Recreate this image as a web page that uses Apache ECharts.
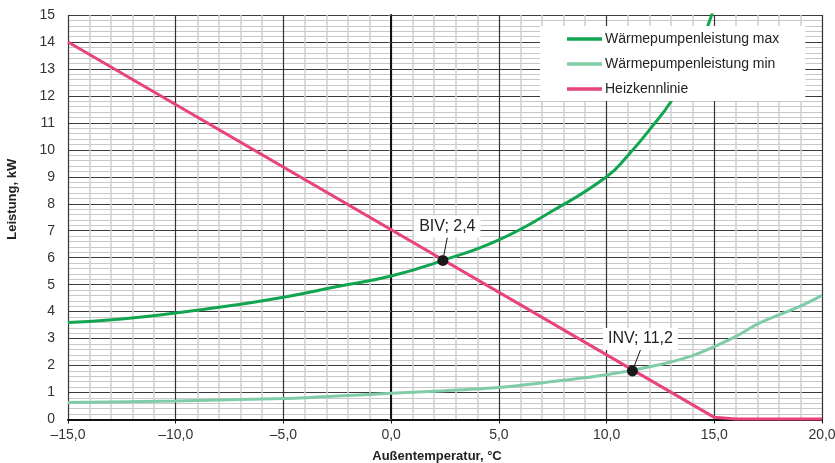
<!DOCTYPE html>
<html>
<head>
<meta charset="utf-8">
<script src="https://cdn.jsdelivr.net/npm/echarts@6/dist/echarts.min.js"></script>
<style>html,body{margin:0;padding:0;background:#fff}#c{width:835px;height:463px}</style>
</head>
<body>
<div id="c"></div>
<script>
// Data
const seriesNames = ['Wärmepumpenleistung max', 'Wärmepumpenleistung min', 'Heizkennlinie'];
const maxX = [-15, -12.5, -10, -7.5, -5, -2.5, 0, 2.4, 5, 7.5, 10, 11, 12, 13, 14, 15];
const maxY = [3.6, 3.73, 3.95, 4.22, 4.53, 4.93, 5.32, 5.9, 6.66, 7.74, 9.0, 9.8, 10.75, 11.8, 13.2, 15.3];
const minX = [-15, -10, -5, -2.5, 0, 2.5, 5, 7.5, 10, 12.5, 14, 15, 16, 17, 18, 19, 20];
const minY = [0.63, 0.69, 0.78, 0.87, 0.97, 1.07, 1.19, 1.41, 1.66, 2.04, 2.37, 2.7, 3.08, 3.54, 3.88, 4.2, 4.6];
const heizX = [-15, 15, 16, 20];
const heizY = [14, 0.08, 0.02, 0.02];
const pointNames = ['BIV; 2,4', 'INV; 11,2'];
const pointX = [2.4, 11.2];
const pointY = [5.9, 1.8];

const zip = (a, b) => a.map((v, i) => [v, b[i]]);
const FONT = '"Liberation Sans", Arial, Helvetica, sans-serif';
const labelOffsets = [[4.5, -12.5], [8, -10.5]];

const chart = echarts.init(document.getElementById('c'), null, {renderer: 'canvas'});
chart.setOption({
  animation: false,
  textStyle: {fontFamily: FONT},
  grid: {left: 68, right: 13, top: 15, bottom: 43.5, outerBoundsMode: 'none', containLabel: false},
  legend: {
    data: seriesNames,
    orient: 'vertical',
    left: 540, top: 26,
    backgroundColor: '#fff',
    padding: [5, 26, 4, 27],
    itemWidth: 35, itemHeight: 3.5, itemGap: 9,
    icon: 'rect',
    textStyle: {fontSize: 14, color: '#222', fontFamily: FONT, lineHeight: 16, padding: [0, 0, 0, -2]}
  },
  xAxis: {
    type: 'value', min: -15, max: 20, interval: 5,
    name: 'Außentemperatur, °C', nameLocation: 'middle', nameGap: 30,
    nameTextStyle: {fontWeight: 'bold', fontSize: 13, color: '#222', padding: [0, 16, 0, 0]},
    axisLine: {show: true, onZero: false, lineStyle: {color: '#111', width: 2}},
    axisTick: {show: true, length: 4, lineStyle: {color: '#111'}},
    axisLabel: {fontSize: 14, color: '#333', margin: 9,
      formatter: v => v.toFixed(1).replace('.', ',').replace('-', '–')},
    splitLine: {show: true, lineStyle: {color: '#333', width: 1.2}},
    minorTick: {show: true, splitNumber: 5, length: 0},
    minorSplitLine: {show: true, lineStyle: {color: '#cfcfcf', width: 1.5}}
  },
  yAxis: {
    type: 'value', min: 0, max: 15, interval: 1,
    name: 'Leistung, kW', nameLocation: 'middle', nameGap: 49, nameRotate: 90,
    nameTextStyle: {fontWeight: 'bold', fontSize: 13, color: '#222', padding: [0, 0, 0, 36]},
    axisLine: {show: true, lineStyle: {color: '#111', width: 2}},
    axisTick: {show: true, length: 3, lineStyle: {color: '#666'}},
    axisLabel: {fontSize: 14, color: '#333', margin: 13},
    splitLine: {show: true, lineStyle: {color: '#3a3a3a', width: 1.2}},
    minorTick: {show: true, splitNumber: 5, length: 0},
    minorSplitLine: {show: true, lineStyle: {color: '#c8c8c8', width: 1}}
  },
  series: [
    {name: seriesNames[0], type: 'line', data: zip(maxX, maxY), smooth: true, showSymbol: false,
     lineStyle: {color: '#12a54f', width: 3}, itemStyle: {color: '#12a54f'}, z: 3},
    {name: seriesNames[1], type: 'line', data: zip(minX, minY), smooth: 0.3, showSymbol: false,
     lineStyle: {color: '#7fcca6', width: 3}, itemStyle: {color: '#7fcca6'}, z: 3},
    {name: seriesNames[2], type: 'line', data: zip(heizX, heizY), showSymbol: false,
     lineStyle: {color: '#e8437f', width: 3}, itemStyle: {color: '#e8437f'}, z: 3},
    {type: 'scatter', z: 5, symbolSize: 11, itemStyle: {color: '#1a1a1a', opacity: 1},
     data: pointX.map((x, i) => ({name: pointNames[i], value: [x, pointY[i]]})),
     label: {show: true, position: 'top', distance: 5, formatter: p => p.name,
       fontSize: 16, color: '#222', backgroundColor: '#fff', padding: [3, 5, 3, 5], fontFamily: FONT},
     labelLayout: p => ({dx: labelOffsets[p.dataIndex][0], dy: labelOffsets[p.dataIndex][1]}),
     labelLine: {show: true, lineStyle: {color: '#111', width: 1}},
     emphasis: {disabled: true}
    }
  ]
});
</script>
</body>
</html>
